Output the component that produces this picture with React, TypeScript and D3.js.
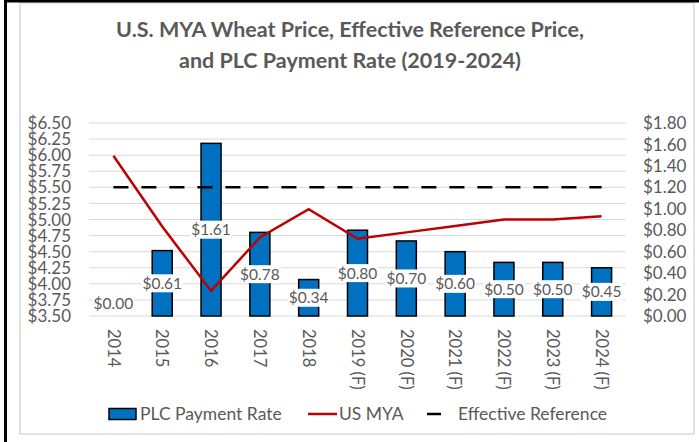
import React, { useEffect, useRef } from "react";
import * as d3 from "d3";

const years = ["2014", "2015", "2016", "2017", "2018", "2019 (F)", "2020 (F)", "2021 (F)", "2022 (F)", "2023 (F)", "2024 (F)"];
const plcRate = [0.0, 0.61, 1.61, 0.78, 0.34, 0.8, 0.7, 0.6, 0.5, 0.5, 0.45];
const usMya = [5.99, 4.89, 3.89, 4.72, 5.16, 4.7, 4.8, 4.9, 5.0, 5.0, 5.05];
const effectiveRef = [5.5, 5.5, 5.5, 5.5, 5.5, 5.5, 5.5, 5.5, 5.5, 5.5, 5.5];
const leftTicks = [3.5, 3.75, 4.0, 4.25, 4.5, 4.75, 5.0, 5.25, 5.5, 5.75, 6.0, 6.25, 6.5];
const rightTicks = [0, 0.2, 0.4, 0.6, 0.8, 1.0, 1.2, 1.4, 1.6, 1.8];
const titleLines = ["U.S. MYA Wheat Price, Effective Reference Price,", "and PLC Payment Rate (2019-2024)"];

const FONT = "Lato, 'Open Sans', sans-serif";
const GREY = "#595959";

const App = () => {
  const ref = useRef(null);

  useEffect(() => {
    document.body.style.margin = "0";
    const svg = d3.select(ref.current);
    svg.selectAll("*").remove();

    const width = 699;
    const height = 442;
    svg.attr("width", width).attr("height", height).style("display", "block");

    svg.append("rect").attr("width", width).attr("height", height).attr("fill", "#fff");
    // chart border + outer frame
    svg.append("rect").attr("x", 20).attr("y", 3).attr("width", 674).attr("height", 431)
      .attr("fill", "none").attr("stroke", "#d9d9d9").attr("stroke-width", 1.5);
    svg.append("line").attr("x1", 5.5).attr("x2", 5.5).attr("y1", 0).attr("y2", height).attr("stroke", "#000").attr("stroke-width", 3);
    svg.append("line").attr("x1", 4).attr("x2", width).attr("y1", 1).attr("y2", 1).attr("stroke", "#000").attr("stroke-width", 3);

    const x = d3.scaleBand().domain(years).range([89, 626]).paddingInner(0.59).paddingOuter(0.295);
    const cx = (d) => x(d) + x.bandwidth() / 2;
    const yL = d3.scaleLinear().domain([3.5, 6.5]).range([316, 123]);
    const yR = d3.scaleLinear().domain([0, 1.8]).range([316, 123]);

    // title
    svg.append("g").selectAll("text").data(titleLines).enter().append("text")
      .attr("x", 350).attr("y", (d, i) => 37 + i * 31)
      .attr("text-anchor", "middle").attr("fill", GREY)
      .style("font-family", FONT).style("font-size", "21.5px").style("font-weight", "bold")
      .text((d) => d);

    // gridlines
    svg.append("g").selectAll("line").data(leftTicks).enter().append("line")
      .attr("x1", 89).attr("x2", 626).attr("y1", (d) => yL(d)).attr("y2", (d) => yL(d))
      .attr("stroke", "#d9d9d9").attr("stroke-width", 1);

    // left axis labels
    svg.append("g").selectAll("text").data(leftTicks).enter().append("text")
      .attr("x", 71).attr("y", (d) => yL(d)).attr("dy", "0.36em")
      .attr("text-anchor", "end").attr("fill", GREY)
      .style("font-family", FONT).style("font-size", "17px")
      .text((d) => d3.format("$.2f")(d));

    // right axis labels
    svg.append("g").selectAll("text").data(rightTicks).enter().append("text")
      .attr("x", 643).attr("y", (d) => yR(d)).attr("dy", "0.36em")
      .attr("text-anchor", "start").attr("fill", GREY)
      .style("font-family", FONT).style("font-size", "17px")
      .text((d) => d3.format("$.2f")(d));

    // x labels, rotated 90
    svg.append("g").selectAll("text").data(years).enter().append("text")
      .attr("transform", (d) => `translate(${cx(d)},329) rotate(90)`)
      .attr("dy", "0.35em").attr("fill", GREY)
      .style("font-family", FONT).style("font-size", "16.5px")
      .text((d) => d);

    // bars
    const barData = years.map((yr, i) => ({ yr, v: plcRate[i] }));
    svg.append("g").selectAll("rect").data(barData.filter((d) => d.v > 0)).enter().append("rect")
      .attr("x", (d) => x(d.yr)).attr("width", x.bandwidth())
      .attr("y", (d) => yR(d.v)).attr("height", (d) => yR(0) - yR(d.v))
      .attr("fill", "#0070C0").attr("stroke", "#000").attr("stroke-width", 1.5);

    // effective reference dashed line
    const line = d3.line().x((d) => d[0]).y((d) => d[1]);
    svg.append("path")
      .attr("d", line(years.map((yr, i) => [cx(yr), yL(effectiveRef[i])])))
      .attr("fill", "none").attr("stroke", "#000").attr("stroke-width", 2.5).attr("stroke-dasharray", "15,13");

    // US MYA
    svg.append("path")
      .attr("d", line(years.map((yr, i) => [cx(yr), yL(usMya[i])])))
      .attr("fill", "none").attr("stroke", "#C00000").attr("stroke-width", 2.5).attr("stroke-linejoin", "miter");

    // data labels (centered in bar, kept inside plot)
    const labels = svg.append("g").selectAll("g").data(barData).enter().append("g")
      .attr("transform", (d) => `translate(${cx(d.yr)},${Math.min((yR(d.v) + yR(0)) / 2, 303)})`);
    labels.append("rect").attr("x", -21).attr("y", -9).attr("width", 42).attr("height", 18).attr("fill", "#fff");
    labels.append("text").attr("text-anchor", "middle").attr("dy", "0.36em").attr("fill", GREY)
      .style("font-family", FONT).style("font-size", "15.5px")
      .text((d) => d3.format("$.2f")(d.v));

    // legend
    const lg = svg.append("g").style("font-family", FONT).style("font-size", "17.5px").attr("fill", GREY);
    lg.append("rect").attr("x", 109).attr("y", 408.5).attr("width", 27).attr("height", 11)
      .attr("fill", "#0070C0").attr("stroke", "#000").attr("stroke-width", 1.5);
    lg.append("text").attr("x", 140).attr("y", 414).attr("dy", "0.36em").text("PLC Payment Rate");
    lg.append("line").attr("x1", 308).attr("x2", 337).attr("y1", 414).attr("y2", 414).attr("stroke", "#C00000").attr("stroke-width", 2.5);
    lg.append("text").attr("x", 339).attr("y", 414).attr("dy", "0.36em").text("US MYA");
    lg.append("line").attr("x1", 427).attr("x2", 441).attr("y1", 414).attr("y2", 414).attr("stroke", "#000").attr("stroke-width", 2.5);
    lg.append("text").attr("x", 458).attr("y", 414).attr("dy", "0.36em").text("Effective Reference");
  }, []);

  return <svg ref={ref}></svg>;
};

export default App;
